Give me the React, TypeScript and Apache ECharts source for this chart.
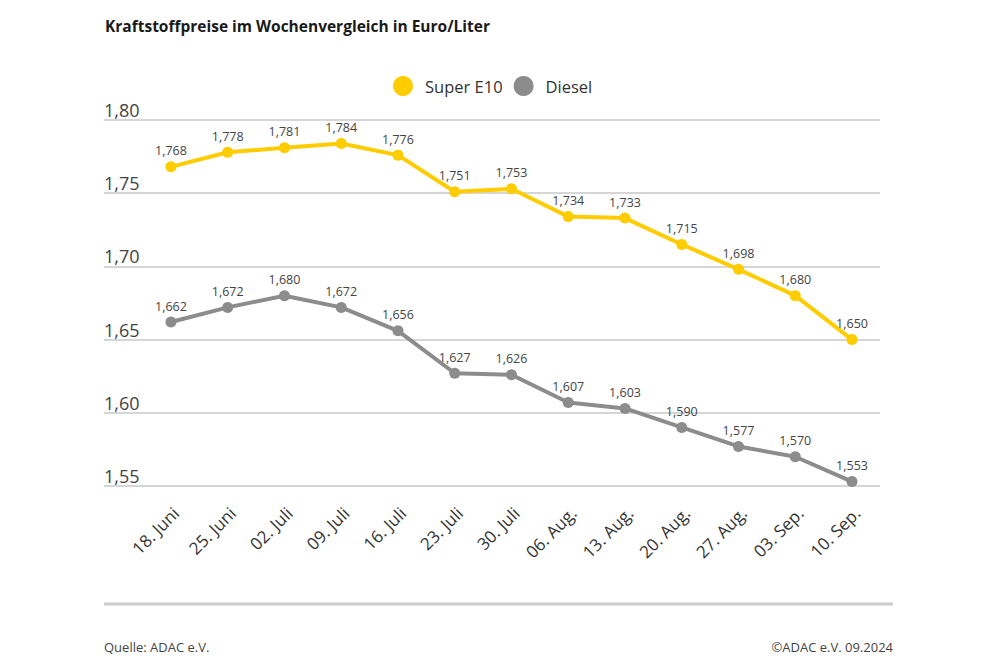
import React, { useEffect, useRef } from "react";
import * as echarts from "echarts";

const categories = [
  "18. Juni", "25. Juni", "02. Juli", "09. Juli", "16. Juli", "23. Juli", "30. Juli",
  "06. Aug.", "13. Aug.", "20. Aug.", "27. Aug.", "03. Sep.", "10. Sep.",
];
const superE10 = [1.768, 1.778, 1.781, 1.784, 1.776, 1.751, 1.753, 1.734, 1.733, 1.715, 1.698, 1.68, 1.65];
const diesel = [1.662, 1.672, 1.68, 1.672, 1.656, 1.627, 1.626, 1.607, 1.603, 1.59, 1.577, 1.57, 1.553];
const yMin = 1.55;
const yMax = 1.8;
const yInterval = 0.05;

const FONT = "'Open Sans', 'Noto Sans', sans-serif";
const YELLOW = "#FFCC00";
const GREY = "#8C8C8C";

export default function App() {
  const ref = useRef<HTMLDivElement>(null);
  useEffect(() => {
    if (!ref.current) return;
    const chart = echarts.init(ref.current, undefined, { renderer: "svg" });
    const fmt3 = (p: any) => Number(p.value).toFixed(3).replace(".", ",");
    const labelCfg = {
      show: true,
      position: "top",
      distance: 4,
      fontFamily: FONT,
      fontSize: 12.5,
      color: "#444",
      formatter: fmt3,
    };
    chart.setOption({
      animation: false,
      backgroundColor: "#ffffff",
      textStyle: { fontFamily: FONT },
      title: {
        text: "Kraftstoffpreise im Wochenvergleich in Euro/Liter",
        left: 100,
        top: 13,
        textStyle: { fontFamily: FONT, fontSize: 15.5, fontWeight: "bold", color: "#1a1a1a" },
      },
      legend: {
        left: 388,
        top: 71,
        icon: "circle",
        itemWidth: 20,
        itemHeight: 20,
        itemGap: 11,
        textStyle: { fontFamily: FONT, fontSize: 16.5, color: "#333", padding: [0, 0, 0, 7] },
        data: ["Super E10", "Diesel"],
      },
      grid: [
        { left: 142.6, right: 119.6, top: 120, bottom: 181, containLabel: false },
        { left: 104, right: 120, top: 120, bottom: 181, containLabel: false },
      ],
      xAxis: [
        {
          type: "category",
          gridIndex: 0,
          data: categories,
          boundaryGap: true,
          axisLine: { show: false },
          axisTick: { show: false },
          axisLabel: {
            rotate: 45,
            interval: 0,
            margin: 29,
            padding: [0, -7, 0, 0],
            fontFamily: FONT,
            fontSize: 17,
            color: "#333",
          },
        },
        { type: "value", gridIndex: 1, show: false, min: 0, max: 1 },
      ],
      yAxis: [
        { type: "value", gridIndex: 0, min: yMin, max: yMax, interval: yInterval, show: false },
        {
          type: "value",
          gridIndex: 1,
          min: yMin,
          max: yMax,
          interval: yInterval,
          axisLine: { show: false },
          axisTick: { show: false },
          splitLine: { show: true, lineStyle: { color: "#c8c8c8", width: 1.5 } },
          axisLabel: {
            inside: true,
            margin: 0,
            verticalAlign: "bottom",
            padding: [0, 0, 1, 0],
            fontFamily: FONT,
            fontSize: 18,
            color: "#444",
            formatter: (v: number) => v.toFixed(2).replace(".", ","),
          },
        },
      ],
      series: [
        {
          name: "Super E10",
          type: "line",
          xAxisIndex: 0,
          yAxisIndex: 0,
          data: superE10,
          color: YELLOW,
          lineStyle: { width: 4, color: YELLOW },
          symbol: "circle",
          symbolSize: 11,
          itemStyle: { color: YELLOW },
          label: labelCfg,
        },
        {
          name: "Diesel",
          type: "line",
          xAxisIndex: 0,
          yAxisIndex: 0,
          data: diesel,
          color: GREY,
          lineStyle: { width: 4, color: GREY },
          symbol: "circle",
          symbolSize: 11,
          itemStyle: { color: GREY },
          label: labelCfg,
        },
      ],
      graphic: [
        {
          type: "line",
          shape: { x1: 104, y1: 604, x2: 893, y2: 604 },
          style: { stroke: "#cccccc", lineWidth: 3 },
        },
        {
          type: "text",
          left: 104,
          top: 640,
          style: {
            text: "Quelle: ADAC e.V.",
            fontFamily: "'Liberation Sans Narrow', 'Open Sans', sans-serif",
            fontSize: 13,
            fill: "#444",
          },
        },
        {
          type: "text",
          right: 107,
          top: 640,
          style: {
            text: "©ADAC e.V. 09.2024",
            fontFamily: "'Liberation Sans Narrow', 'Open Sans', sans-serif",
            fontSize: 13,
            fill: "#444",
          },
        },
      ],
    });
    return () => chart.dispose();
  }, []);
  return (
    <div
      ref={ref}
      style={{ position: "fixed", left: 0, top: 0, width: 1000, height: 667, background: "#fff" }}
    />
  );
}
